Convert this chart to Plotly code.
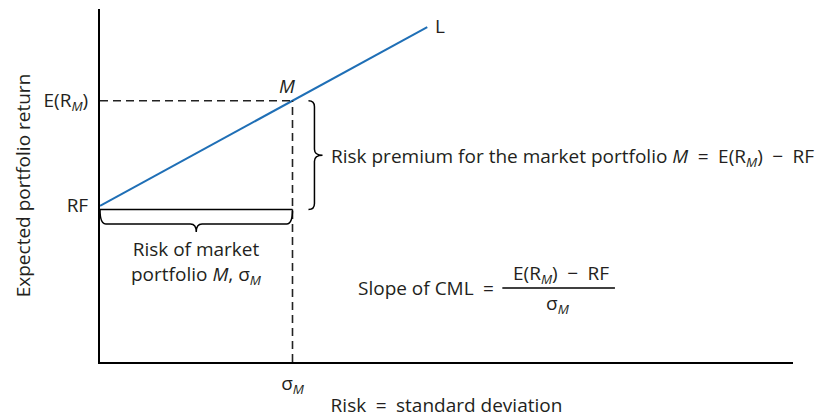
import plotly.graph_objects as go

# data (abstract units: sigma_M = 1 on the risk axis)
rf = 8.85
erm = 14.8
sigma_m = 1.0
cml_x = [0.0, 1.0, 1.7]
cml_y = [8.85, 14.8, 18.97]
x_range = [0, 3.6]
y_range = [0, 20]

FONT = "Open Sans"
FS = 19
TXT = "#231f20"
BLUE = "#1f6fb6"

fig = go.Figure()

# capital market line
fig.add_trace(go.Scatter(x=cml_x, y=cml_y, mode="lines",
                         line=dict(color=BLUE, width=2), hoverinfo="skip"))

# dashed guides to the market portfolio
dash = dict(color="#222222", width=1.6, dash="8px,5px")
fig.add_trace(go.Scatter(x=[0, sigma_m], y=[erm, erm], mode="lines", line=dash, hoverinfo="skip"))
fig.add_trace(go.Scatter(x=[sigma_m, sigma_m], y=[0, erm], mode="lines", line=dash, hoverinfo="skip"))

# braces (built in data units)
rf_low = rf - 0.21
dy = 0.34
xb = sigma_m + 0.114
x0 = sigma_m + 0.083
xt = sigma_m + 0.156
ymid = (erm + rf_low) / 2
right_brace = (f"M {x0},{erm} Q {xb},{erm} {xb},{erm - dy} "
               f"L {xb},{ymid + dy} Q {xb},{ymid} {xt},{ymid} "
               f"Q {xb},{ymid} {xb},{ymid - dy} "
               f"L {xb},{rf_low + dy} Q {xb},{rf_low} {x0},{rf_low}")
fig.add_shape(type="path", path=right_brace, xref="x", yref="y",
              line=dict(color="black", width=1.5))

yb = rf_low - 0.82
ytip = rf_low - 1.27
dx = 0.03
xm = sigma_m / 2
bottom_brace = (f"M 0,{rf_low} L {sigma_m},{rf_low} "
                f"M 0,{rf_low} Q 0,{yb} {dx},{yb} L {xm - dx},{yb} "
                f"Q {xm},{yb} {xm},{ytip} Q {xm},{yb} {xm + dx},{yb} "
                f"L {sigma_m - dx},{yb} Q {sigma_m},{yb} {sigma_m},{rf_low}")
fig.add_shape(type="path", path=bottom_brace, xref="x", yref="y",
              line=dict(color="black", width=1.5))

# fraction bar for the slope
fig.add_shape(type="line", x0=2.09, x1=2.675, y0=4.19, y1=4.19, xref="x", yref="y",
              line=dict(color="black", width=1.5))

sub_m = "<sub><i>M</i></sub>"
eq = "\u2002=\u2002"
mi = "\u2002−\u2002"
notes = [
    dict(x=cml_x[-1], y=cml_y[-1], text="L", xanchor="left", xshift=6, yshift=1),
    dict(x=sigma_m, y=erm, text="<i>M</i>", xanchor="center", yshift=15, xshift=-6),
    dict(x=sigma_m + 0.19, y=ymid, text=f"Risk premium for the market portfolio <i>M</i>{eq}E(R{sub_m}){mi}RF",
         xanchor="left", yshift=-2),
    dict(x=xm, y=5.62, text=f"Risk of market<br>portfolio <i>M</i>, σ{sub_m}", xanchor="center"),
    dict(x=2.06, y=4.2, text=f"Slope of CML{eq}", xanchor="right", xshift=8),
    dict(x=2.38, y=5.0, text=f"E(R{sub_m}){mi}RF", xanchor="center", xshift=3),
    dict(x=2.38, y=3.3, text=f"σ{sub_m}", xanchor="center"),
]
for n in notes:
    fig.add_annotation(xref="x", yref="y", showarrow=False,
                       font=dict(family=FONT, size=FS, color=TXT), **n)

fig.update_xaxes(range=x_range, showline=True, linecolor="black", linewidth=2,
                 showgrid=False, zeroline=False, ticks="", automargin=False,
                 tickvals=[sigma_m], ticktext=[f"σ{sub_m}"], ticklabelstandoff=3,
                 tickfont=dict(family=FONT, size=FS, color=TXT),
                 title=dict(text=f"Risk{eq}standard deviation", standoff=12,
                            font=dict(family=FONT, size=FS, color=TXT)))
fig.update_yaxes(range=y_range, showline=True, linecolor="black", linewidth=2,
                 showgrid=False, zeroline=False, ticks="", automargin=False,
                 tickvals=[rf, erm], ticktext=["RF", f"E(R{sub_m})"], ticklabelstandoff=6,
                 tickfont=dict(family=FONT, size=FS, color=TXT),
                 title=dict(text="Expected portfolio return", standoff=8,
                            font=dict(family=FONT, size=FS, color=TXT)))

fig.update_layout(width=826, height=418, margin=dict(l=100, r=33, t=9, b=56),
                  plot_bgcolor="white", paper_bgcolor="white", showlegend=False)

fig.write_html("out.html", config={"displayModeBar": False},
               post_script="document.body.style.margin='0';")
